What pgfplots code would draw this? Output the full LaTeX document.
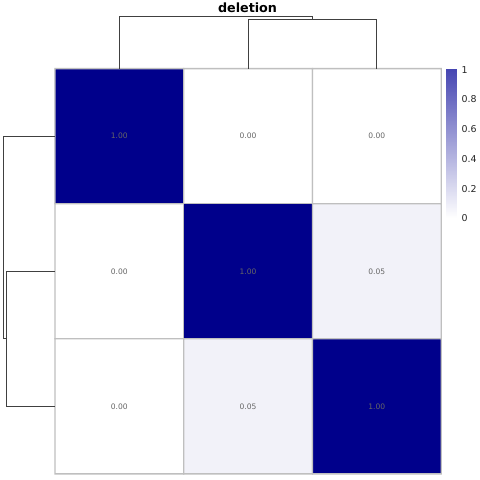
\documentclass[border=0pt]{standalone}
\usepackage{pgfplots}
\pgfplotsset{compat=1.18}
\usepackage{fontspec}
\setmainfont{DejaVu Sans}
\pgfplotsset{
  colormap={cbar}{rgb255=(255,255,255) rgb255=(70,70,178)},
  colormap={heat}{rgb255=(255,255,255) rgb255=(0,0,139)},
}
\begin{document}
\begin{tikzpicture}
\begin{axis}[
  x=1bp, y=1bp, y dir=reverse,
  xmin=0, xmax=480, ymin=0, ymax=480,
  hide axis, clip=false, scale only axis,
  point meta min=0, point meta max=1,
  colormap name=heat,
]
% background to fix picture size
\addplot[fill=white, draw=none] coordinates {(0,0) (480,0) (480,480) (0,480)} -- cycle;
% heatmap cells
\addplot[matrix plot*, mesh/cols=3, point meta=explicit, draw=black!25, line width=1.3pt]
  table[meta=c] {
x y c
119.5 135.67 1
248.5 135.67 0
377.5 135.67 0
119.5 271 0
248.5 271 1
377.5 271 0.05
119.5 406.33 0
248.5 406.33 0.05
377.5 406.33 1
};
% cell labels
\addplot[draw=none, mark=none, nodes near coords, point meta=explicit symbolic,
  nodes near coords align=center,
  every node near coord/.style={font=\fontsize{7.6}{8}\selectfont, text=black!60, anchor=center}]
  table[meta=l] {
x y l
119.5 135.67 1.00
248.5 135.67 0.00
377.5 135.67 0.00
119.5 271 0.00
248.5 271 1.00
377.5 271 0.05
119.5 406.33 0.00
248.5 406.33 0.05
377.5 406.33 1.00
};
% top dendrogram
\addplot[black!75, line width=0.8pt] coordinates {(119.5,68) (119.5,16) (313,16) (313,19)};
\addplot[black!75, line width=0.8pt] coordinates {(248.5,68) (248.5,19) (377.5,19) (377.5,68)};
% left dendrogram
\addplot[black!75, line width=0.8pt] coordinates {(55,135.67) (3,135.67) (3,338.67) (6,338.67)};
\addplot[black!75, line width=0.8pt] coordinates {(55,271) (6,271) (6,406.33) (55,406.33)};
% colorbar
\addplot[surf, shader=interp, colormap name=cbar, point meta=explicit, mesh/rows=2]
  table[meta=c] {
x y c
447 68 1
457 68 1
447 218 0
457 218 0
};
% colorbar labels
\addplot[draw=none, mark=none, nodes near coords, point meta=explicit symbolic,
  every node near coord/.style={font=\fontsize{9.5}{10}\selectfont, text=black!85, anchor=west}]
  table[meta=l] {
x y l
459 69 1
459 98.5 0.8
459 128.5 0.6
459 158.5 0.4
459 188.5 0.2
459 218 0
};
% title
\addplot[draw=none, mark=none, nodes near coords, point meta=explicit symbolic,
  every node near coord/.style={font=\bfseries\fontsize{12.8}{13}\selectfont, text=black, anchor=center}]
  table[meta=l] {
x y l
248 7.5 deletion
};
\end{axis}
\end{tikzpicture}
\end{document}
